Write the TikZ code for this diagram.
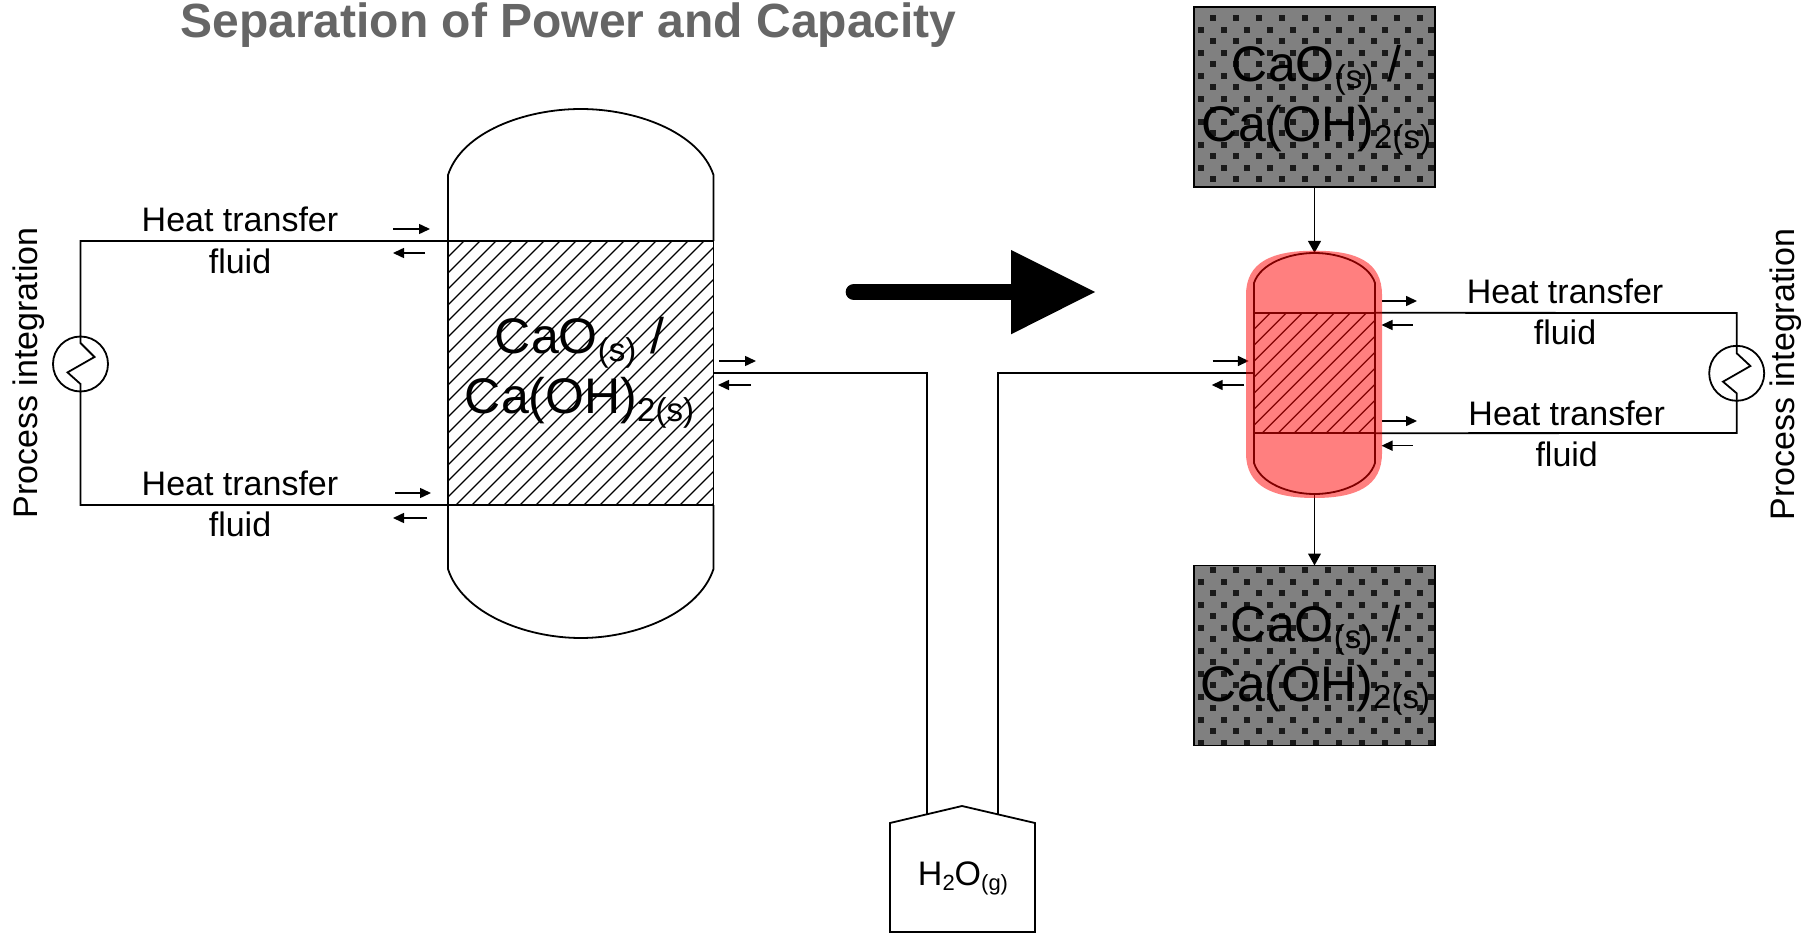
\documentclass[tikz,border=0pt]{standalone}
\usepackage{fontspec}
\setmainfont{Liberation Sans}
\usetikzlibrary{calc,arrows.meta}
\definecolor{titlegray}{HTML}{666666}
\definecolor{storegray}{HTML}{808080}
\definecolor{dotgray}{HTML}{1A1A1A}
\newcommand{\chemsub}[2]{\raisebox{-0.15em}{\fontsize{#1}{#1}\selectfont #2}}
\newcommand{\bedtext}{CaO\chemsub{33}{(s)} /\\Ca(OH)\chemsub{33}{2(s)}}
\tikzset{
	pipe/.style={line width=1.8pt},
	flow/.style={line width=1.5pt,-{Triangle[length=11pt,width=10pt]}},
	feed/.style={line width=1.8pt,-{Triangle[length=12pt,width=12.7pt]}},
	lab/.style={font=\fontsize{34}{40}\selectfont,anchor=base,inner sep=0pt},
	biglab/.style={font=\fontsize{50}{60}\selectfont,align=center,inner sep=0pt},
	hxcircle/.style={draw,circle,line width=1.8pt,minimum size=55pt,inner sep=0pt,outer sep=0pt},
	bed/.style={draw,line width=1.8pt,inner sep=0pt,outer sep=0pt,path picture={
		\foreach \k in {0,16,...,560}
			\draw[line width=1.2pt] ($(path picture bounding box.south west)+(\k-296,0)$) -- ++(400,-400);
	}},
	storebox/.style={draw,fill=storegray,line width=1.8pt,minimum width=241pt,minimum height=180pt,inner sep=0pt,outer sep=0pt,path picture={
		\foreach \j in {0,...,15}
			\foreach \i in {0,...,10}
				\fill[dotgray] ($(path picture bounding box.north west)+({6.7+12*(1-mod(\j,2))+23*\i-3},{#1+11.5*\j-3})$) rectangle ++(6,6);
	}},
}
\begin{document}
\begin{tikzpicture}[x=1pt,y=-1pt]
	\useasboundingbox (0,0) rectangle (1812,933);
	\node[font=\bfseries\fontsize{48}{56}\selectfont,text=titlegray,anchor=base,inner sep=0pt] (title) at (568.5,38) {Separation of Power and Capacity};

	\node[bed,minimum width=265.5pt,minimum height=264pt] (bedleft) at (580.75,373) {};
	\node[biglab] (bedleftlab) at (579.5,373) {\bedtext};
	\draw[pipe] (bedleft.north west) -- (448,175) .. controls (462,132) and (525,109) .. (580.75,109) .. controls (636,109) and (699,132) .. (713.5,175) -- (bedleft.north east);
	\draw[pipe] (bedleft.south west) -- (448,569) .. controls (462,613) and (525,638) .. (580.75,638) .. controls (636,638) and (699,613) .. (713.5,569) -- (bedleft.south east);

	\node[hxcircle] (hxleft) at (80.5,364) {};
	\coordinate (lefttop) at (80.5,241);
	\coordinate (leftbot) at (80.5,505);
	\draw[pipe] (bedleft.north west) -- (lefttop) -- ($(hxleft)+(0,-21)$) -- ++(14,14) -- ++(-27,15.4) -- ++(13,11.6) -- (leftbot) -- (bedleft.south west);
	\node[lab] (hfl1) at (240,232) {Heat transfer};
	\node[lab] (hfl2) at (240,274) {fluid};
	\node[lab] (hfl3) at (240,495) {Heat transfer};
	\node[lab] (hfl4) at (240,536) {fluid};
	\node[lab,rotate=90] (procleft) at (37,373) {Process integration};

	\coordinate (a1) at (393,229); \coordinate (b1) at (430,229);
	\coordinate (a2) at (425,253); \coordinate (b2) at (393,253);
	\coordinate (a3) at (395,493); \coordinate (b3) at (431,493);
	\coordinate (a4) at (427,518); \coordinate (b4) at (393,518);
	\coordinate (a5) at (719,361); \coordinate (b5) at (756,361);
	\coordinate (a6) at (751,385); \coordinate (b6) at (718,385);
	\draw[flow] (a1) -- (b1);
	\draw[flow] (a2) -- (b2);
	\draw[flow] (a3) -- (b3);
	\draw[flow] (a4) -- (b4);
	\draw[flow] (a5) -- (b5);
	\draw[flow] (a6) -- (b6);

	\coordinate (shaftstart) at (854,292);
	\coordinate (shaftend) at (1011,292);
	\draw[line width=16.7pt,line cap=round] (shaftstart) -- (shaftend);
	\fill (1011,250) -- (1095,292) -- (1011,334.3) -- cycle;

	\node[storebox=11.3] (storetop) at (1314.5,97) {};
	\node[biglab] (storetoplab) at (1316.5,100.5) {\bedtext};
	\node[storebox=4.7] (storebot) at (1314.5,655.5) {};
	\node[biglab] (storebotlab) at (1315.5,660.5) {\bedtext};

	\node[bed,minimum width=121pt,minimum height=120.4pt] (bedright) at (1314.5,373) {};
	\coordinate (reactortop) at (1314.5,253);
	\coordinate (reactorbot) at (1314.5,494);
	\draw[pipe] (bedright.north west) -- (1254,283) .. controls (1260.4,263.5) and (1289,253) .. (reactortop) .. controls (1340,253) and (1368.6,263.5) .. (1375,283) -- (bedright.north east);
	\draw[pipe] (bedright.south west) -- (1254,463) .. controls (1260.4,483.5) and (1289,494) .. (reactorbot) .. controls (1340,494) and (1368.6,483.5) .. (1375,463) -- (bedright.south east);
	\draw[feed] (storetop.south) -- (reactortop);
	\draw[feed] (reactorbot) -- (storebot.north);

	\node[hxcircle] (hxright) at (1736.7,373.3) {};
	\coordinate (righttop) at (1736.7,313);
	\coordinate (rightbot) at (1736.7,433);
	\draw[pipe] (bedright.north east) -- (righttop) -- ($(hxright)+(0,-20)$) -- ++(13.7,12.7) -- ++(-27.4,15.7) -- ++(13.7,11.6) -- (rightbot) -- (bedright.south east);
	\node[lab] (hfr1) at (1565,303) {Heat transfer};
	\node[lab] (hfr2) at (1565,344) {fluid};
	\node[lab] (hfr3) at (1566.7,425) {Heat transfer};
	\node[lab] (hfr4) at (1566.7,466) {fluid};
	\node[lab,rotate=90] (procright) at (1794,374.5) {Process integration};

	\coordinate (c1) at (1381.5,301); \coordinate (d1) at (1417,301);
	\coordinate (c2) at (1412.7,325); \coordinate (d2) at (1381.5,325);
	\coordinate (c3) at (1381.5,421); \coordinate (d3) at (1417,421);
	\coordinate (c4) at (1412.7,445.7); \coordinate (d4) at (1381.5,445.7);
	\coordinate (c5) at (1212.5,361); \coordinate (d5) at (1248.8,361);
	\coordinate (c6) at (1244,385); \coordinate (d6) at (1211.7,385);
	\draw[flow] (c1) -- (d1);
	\draw[flow] (c2) -- (d2);
	\draw[flow] (c3) -- (d3);
	\draw[flow] (c4) -- (d4);
	\draw[flow] (c5) -- (d5);
	\draw[flow] (c6) -- (d6);

	\coordinate (tankleft) at (926.7,814);
	\coordinate (tankright) at (998,814);
	\draw[pipe,line join=miter] (890,932) -- (890,823) -- (962,806) -- (1035,823) -- (1035,932) -- cycle;
	\node[lab] (tanklab) at (963,885) {H\chemsub{22}{2}O\chemsub{22}{(g)}};
	\draw[pipe] (bedleft.east) -| (tankleft);
	\draw[pipe] (tankright) |- (bedright.west);

	\fill[red,opacity=0.5] (1246,295) .. controls (1246,262) and (1272,250.7) .. (1314.5,250.7) .. controls (1357,250.7) and (1382,262) .. (1382,295) -- (1382,453) .. controls (1382,486) and (1357,498) .. (1314.5,498) .. controls (1272,498) and (1246,486) .. (1246,453) -- cycle;
\end{tikzpicture}
\end{document}
